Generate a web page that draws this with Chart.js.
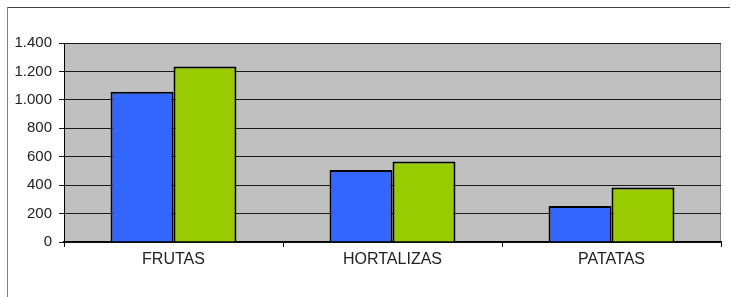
<!DOCTYPE html>
<html>
<head>
<meta charset="utf-8">
<script src="https://cdn.jsdelivr.net/npm/chart.js@4"></script>
<style>
  html, body { margin: 0; padding: 0; background: #fff; }
  #wrap { width: 731px; height: 297px; position: relative; }
</style>
</head>
<body>
<div id="wrap"><canvas id="chart"></canvas></div>
<script>
// Datos
const categorias = ['FRUTAS', 'HORTALIZAS', 'PATATAS'];
const serieAzul = [1057, 506, 253];
const serieVerde = [1235, 566, 383];
const yTicks = [0, 200, 400, 600, 800, 1000, 1200, 1400];

// fondo gris del área de trazado y marco exterior
const fondo = {
  id: 'fondo',
  beforeDraw(chart) {
    const { ctx, chartArea: a } = chart;
    ctx.save();
    ctx.fillStyle = '#c0c0c0';
    ctx.fillRect(a.left, a.top, a.right - a.left, a.bottom - a.top);
    ctx.strokeStyle = '#808080';
    ctx.lineWidth = 1;
    ctx.strokeRect(a.left + 0.5, a.top + 0.5, a.right - a.left - 1, a.bottom - a.top);
    // marco exterior
    ctx.strokeStyle = '#404040';
    ctx.beginPath();
    ctx.moveTo(8, 7.5);
    ctx.lineTo(730, 7.5);
    ctx.stroke();
    ctx.strokeStyle = '#808080';
    ctx.beginPath();
    ctx.moveTo(7.5, 7);
    ctx.lineTo(7.5, 297);
    ctx.stroke();
    ctx.restore();
  }
};

const ctx = document.getElementById('chart').getContext('2d');
new Chart(ctx, {
  type: 'bar',
  data: {
    labels: categorias,
    datasets: [
      {
        label: 'Serie 1',
        data: serieAzul,
        backgroundColor: '#3366ff',
        borderColor: '#000',
        borderWidth: 2,
        categoryPercentage: 0.575,
        barPercentage: 1.0
      },
      {
        label: 'Serie 2',
        data: serieVerde,
        backgroundColor: '#99cc00',
        borderColor: '#000',
        borderWidth: 2,
        categoryPercentage: 0.575,
        barPercentage: 1.0
      }
    ]
  },
  options: {
    responsive: true,
    maintainAspectRatio: false,
    animation: false,
    layout: { padding: { left: 0, right: 10, top: 43, bottom: 0 } },
    plugins: {
      legend: { display: false },
      tooltip: { enabled: false }
    },
    scales: {
      x: {
        grid: { offset: true, drawOnChartArea: false, drawTicks: true, tickLength: 5, color: '#000' },
        border: { color: '#000', width: 1.5 },
        ticks: { color: '#222', font: { family: 'Liberation Sans', size: 16 }, padding: 3 },
        afterFit(scale) { scale.height = 55; }
      },
      y: {
        min: 0,
        max: 1400,
        afterBuildTicks(scale) { scale.ticks = yTicks.map(v => ({ value: v })); },
        grid: { color: '#1a1a1a', lineWidth: 1, tickLength: 5 },
        border: { color: '#000', width: 1 },
        ticks: {
          color: '#222',
          font: { family: 'Liberation Sans', size: 15 },
          padding: 7,
          callback: v => v.toLocaleString('de-DE')
        },
        afterFit(scale) { scale.width = 64; }
      }
    }
  },
  plugins: [fondo]
});
</script>
</body>
</html>
